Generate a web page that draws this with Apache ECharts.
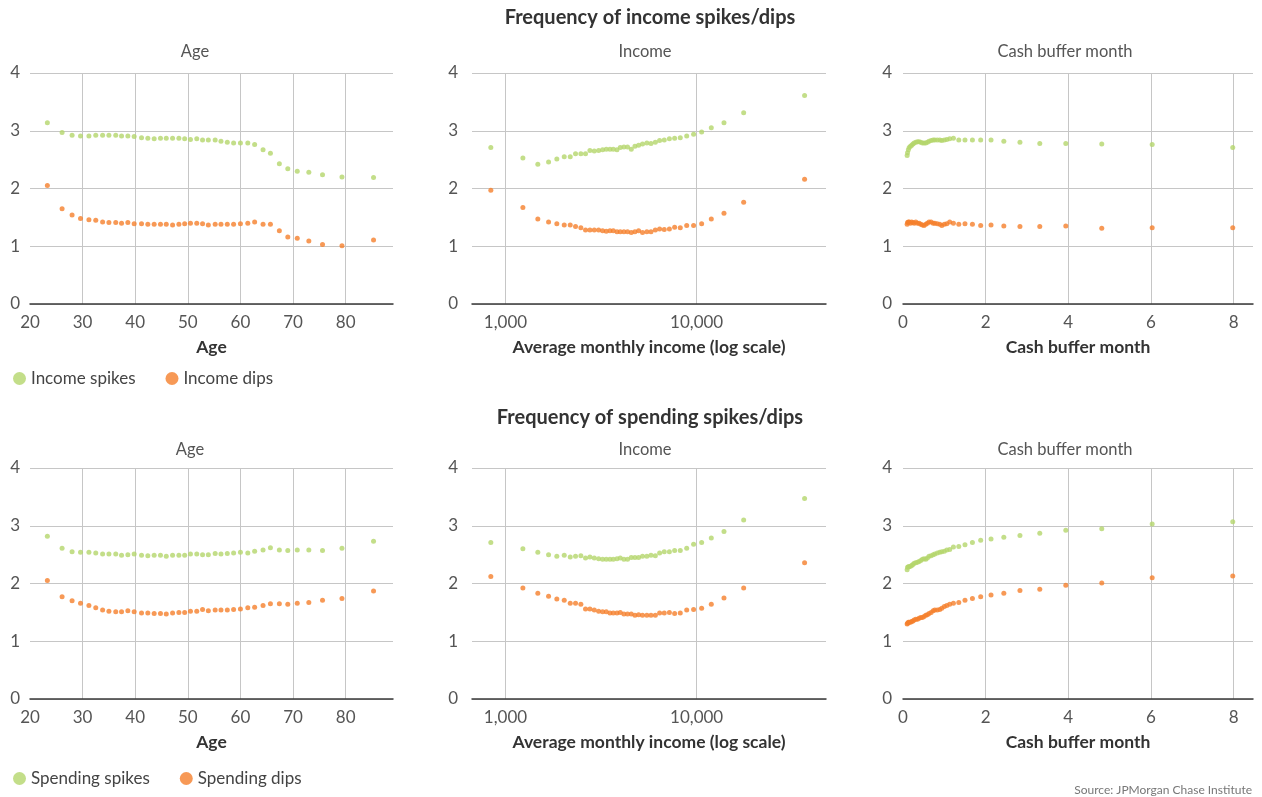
<!DOCTYPE html>
<html lang="en">
<head>
    <meta charset="UTF-8">
    <title>Frequency of income and spending spikes/dips</title>
    <script src="https://cdn.jsdelivr.net/npm/echarts@6/dist/echarts.min.js"></script>
    <style>
        body { margin: 0; padding: 0; background: #fff; }
        #chart { width: 1262px; height: 797px; }
    </style>
</head>
<body>
<div id="chart"></div>
<script>
    // x values shared by both rows
    const ages = [23.3, 26.1, 28.0, 29.6, 31.2, 32.5, 33.8, 35.0, 36.3, 37.4, 38.6, 39.8, 41.2, 42.4, 43.6, 44.8, 45.9, 47.1, 48.3, 49.4,
        50.5, 51.7, 52.8, 53.9, 55.2, 56.3, 57.5, 58.7, 60.0, 61.4, 62.7, 64.3, 65.7, 67.4, 69.0, 70.8, 73.0, 75.6, 79.3, 85.3];
    const incomes = [838, 1233, 1476, 1680, 1856, 2029, 2181, 2325, 2479, 2622, 2765, 2914, 3071, 3222, 3367, 3520, 3664, 3830, 3985, 4164,
        4350, 4550, 4755, 4970, 5210, 5490, 5770, 6080, 6400, 6770, 7200, 7670, 8210, 8870, 9640, 10620, 11930, 13900, 17620, 36700];
    const cashMonths = [0.10, 0.11, 0.13, 0.15, 0.18, 0.21, 0.24, 0.27, 0.31, 0.35, 0.39, 0.43, 0.47, 0.51, 0.55, 0.59, 0.63, 0.68, 0.73, 0.77,
        0.83, 0.89, 0.94, 1.00, 1.06, 1.13, 1.22, 1.35, 1.50, 1.68, 1.88, 2.13, 2.44, 2.83, 3.31, 3.94, 4.81, 6.03, 7.98];

    // income spikes / dips
    const incSpikesAge = [3.14, 2.97, 2.92, 2.91, 2.91, 2.92, 2.92, 2.92, 2.92, 2.91, 2.91, 2.90, 2.88, 2.87, 2.86, 2.87, 2.87, 2.87, 2.87, 2.86,
        2.85, 2.86, 2.84, 2.84, 2.84, 2.82, 2.80, 2.79, 2.79, 2.79, 2.76, 2.67, 2.61, 2.43, 2.34, 2.30, 2.28, 2.24, 2.20, 2.19];
    const incDipsAge = [2.05, 1.65, 1.54, 1.48, 1.46, 1.45, 1.42, 1.41, 1.41, 1.40, 1.41, 1.39, 1.39, 1.38, 1.38, 1.38, 1.38, 1.37, 1.38, 1.39,
        1.40, 1.40, 1.39, 1.37, 1.38, 1.38, 1.38, 1.38, 1.39, 1.40, 1.42, 1.38, 1.38, 1.27, 1.16, 1.14, 1.09, 1.03, 1.01, 1.11];
    const incSpikesIncome = [2.71, 2.53, 2.42, 2.46, 2.51, 2.55, 2.55, 2.60, 2.60, 2.60, 2.66, 2.65, 2.66, 2.67, 2.68, 2.68, 2.68, 2.67, 2.71, 2.72,
        2.72, 2.68, 2.73, 2.75, 2.77, 2.79, 2.78, 2.80, 2.83, 2.84, 2.86, 2.87, 2.88, 2.91, 2.94, 2.98, 3.05, 3.14, 3.31, 3.61];
    const incDipsIncome = [1.97, 1.67, 1.47, 1.42, 1.39, 1.37, 1.37, 1.34, 1.32, 1.28, 1.28, 1.28, 1.28, 1.27, 1.26, 1.27, 1.27, 1.25, 1.25, 1.25,
        1.25, 1.24, 1.25, 1.27, 1.24, 1.25, 1.25, 1.28, 1.30, 1.29, 1.30, 1.33, 1.32, 1.36, 1.36, 1.39, 1.47, 1.57, 1.76, 2.16];
    const incSpikesCash = [2.57, 2.62, 2.67, 2.71, 2.73, 2.75, 2.77, 2.79, 2.80, 2.81, 2.81, 2.80, 2.79, 2.79, 2.79, 2.80, 2.82, 2.83, 2.84, 2.84,
        2.84, 2.84, 2.83, 2.84, 2.85, 2.86, 2.87, 2.84, 2.84, 2.84, 2.84, 2.84, 2.82, 2.80, 2.78, 2.78, 2.77, 2.76, 2.71];
    const incDipsCash = [1.38, 1.41, 1.42, 1.42, 1.40, 1.42, 1.41, 1.40, 1.42, 1.40, 1.40, 1.38, 1.37, 1.36, 1.38, 1.40, 1.42, 1.42, 1.40, 1.40,
        1.39, 1.38, 1.36, 1.38, 1.39, 1.42, 1.40, 1.38, 1.39, 1.38, 1.36, 1.37, 1.35, 1.34, 1.34, 1.35, 1.31, 1.32, 1.32];

    // spending spikes / dips
    const spdSpikesAge = [2.82, 2.61, 2.55, 2.54, 2.54, 2.53, 2.51, 2.51, 2.51, 2.49, 2.50, 2.51, 2.49, 2.48, 2.49, 2.49, 2.47, 2.49, 2.49, 2.49,
        2.51, 2.51, 2.50, 2.50, 2.52, 2.51, 2.52, 2.53, 2.54, 2.53, 2.56, 2.58, 2.62, 2.58, 2.57, 2.58, 2.58, 2.57, 2.61, 2.73];
    const spdDipsAge = [2.05, 1.77, 1.70, 1.66, 1.62, 1.58, 1.54, 1.52, 1.51, 1.51, 1.53, 1.51, 1.49, 1.49, 1.48, 1.48, 1.47, 1.49, 1.50, 1.50,
        1.52, 1.52, 1.55, 1.53, 1.54, 1.54, 1.54, 1.55, 1.56, 1.58, 1.59, 1.62, 1.65, 1.65, 1.64, 1.66, 1.67, 1.71, 1.74, 1.87];
    const spdSpikesIncome = [2.71, 2.60, 2.54, 2.50, 2.47, 2.49, 2.46, 2.47, 2.48, 2.44, 2.46, 2.44, 2.43, 2.42, 2.42, 2.42, 2.42, 2.43, 2.44, 2.42,
        2.42, 2.45, 2.45, 2.45, 2.47, 2.47, 2.49, 2.48, 2.53, 2.55, 2.55, 2.57, 2.57, 2.61, 2.68, 2.71, 2.79, 2.90, 3.10, 3.47];
    const spdDipsIncome = [2.12, 1.92, 1.83, 1.78, 1.73, 1.71, 1.66, 1.66, 1.64, 1.56, 1.56, 1.54, 1.52, 1.51, 1.51, 1.49, 1.49, 1.49, 1.50, 1.47,
        1.47, 1.47, 1.45, 1.46, 1.45, 1.45, 1.45, 1.45, 1.49, 1.49, 1.50, 1.48, 1.49, 1.54, 1.55, 1.57, 1.64, 1.75, 1.92, 2.36];
    const spdSpikesCash = [2.24, 2.28, 2.29, 2.29, 2.30, 2.31, 2.33, 2.35, 2.36, 2.37, 2.38, 2.40, 2.42, 2.43, 2.42, 2.44, 2.47, 2.48, 2.50, 2.51,
        2.53, 2.54, 2.55, 2.56, 2.58, 2.59, 2.63, 2.64, 2.67, 2.71, 2.75, 2.77, 2.80, 2.83, 2.87, 2.92, 2.95, 3.03, 3.07];
    const spdDipsCash = [1.30, 1.31, 1.33, 1.33, 1.33, 1.34, 1.35, 1.37, 1.38, 1.38, 1.40, 1.41, 1.41, 1.43, 1.45, 1.46, 1.48, 1.50, 1.53, 1.54,
        1.54, 1.55, 1.57, 1.60, 1.62, 1.64, 1.66, 1.67, 1.71, 1.74, 1.77, 1.80, 1.83, 1.88, 1.90, 1.97, 2.01, 2.10, 2.13];

    const yTicks = [0, 1, 2, 3, 4];
    const GREEN = '#b4d66c';
    const ORANGE = '#f5802c';
    const FONT = 'Lato, "Open Sans", sans-serif';

    const zip = (xs, ys) => ys.map((y, i) => [xs[i], y]);

    const chart = echarts.init(document.getElementById('chart'));

    // panel geometry: columns and rows
    const cols = [{ left: 30, width: 363, ylm: 10 }, { left: 472, width: 354, ylm: 14 }, { left: 903, width: 350, ylm: 11 }];
    const rows = [73, 468];
    const grids = [], xAxes = [], yAxes = [];

    rows.forEach(top => {
        cols.forEach((c, ci) => {
            grids.push({ left: c.left, top: top, width: c.width, height: 231 });
            const gi = grids.length - 1;
            const base = {
                gridIndex: gi,
                axisTick: { show: false },
                axisLine: { show: true, onZero: false, lineStyle: { color: '#3a3a3a', width: 1.5 } },
                splitLine: { show: true, showMinLine: false, showMaxLine: false, lineStyle: { color: '#c6c6c6', width: 1 } },
                axisLabel: { color: '#555', fontSize: 17, fontFamily: FONT, margin: 10, showMaxLabel: false },
                nameLocation: 'middle',
                nameGap: 34,
                nameTextStyle: { color: '#333', fontSize: 17.5, fontWeight: 'bold', fontFamily: FONT }
            };
            if (ci === 0) {
                xAxes.push(Object.assign({}, base, { type: 'value', min: 20, max: 89, interval: 10, name: 'Age' }));
            } else if (ci === 1) {
                xAxes.push(Object.assign({}, base, {
                    type: 'log', logBase: 10, min: 668, max: 47500, name: 'Average monthly income (log scale)',
                    axisLabel: Object.assign({}, base.axisLabel, {
                        showMinLabel: false,
                        formatter: v => Math.round(v).toLocaleString('en-US')
                    })
                }));
            } else {
                xAxes.push(Object.assign({}, base, { type: 'value', min: 0, max: 8.47, interval: 2, name: 'Cash buffer month' }));
            }
            yAxes.push({
                gridIndex: gi,
                type: 'value',
                min: yTicks[0],
                max: yTicks[yTicks.length - 1],
                interval: 1,
                axisLine: { show: false },
                axisTick: { show: false },
                splitLine: { show: true, lineStyle: { color: '#c6c6c6', width: 1 } },
                axisLabel: { color: '#555', fontSize: 17, fontFamily: FONT, margin: c.ylm }
            });
        });
    });

    function dots(name, idx, data, color) {
        return {
            name: name,
            type: 'scatter',
            xAxisIndex: idx,
            yAxisIndex: idx,
            data: data,
            symbolSize: 5,
            itemStyle: { color: color },
            emphasis: { disabled: true }
        };
    }

    const series = [
        dots('Income spikes', 0, zip(ages, incSpikesAge), GREEN),
        dots('Income dips', 0, zip(ages, incDipsAge), ORANGE),
        dots('Income spikes', 1, zip(incomes, incSpikesIncome), GREEN),
        dots('Income dips', 1, zip(incomes, incDipsIncome), ORANGE),
        dots('Income spikes', 2, zip(cashMonths, incSpikesCash), GREEN),
        dots('Income dips', 2, zip(cashMonths, incDipsCash), ORANGE),
        dots('Spending spikes', 3, zip(ages, spdSpikesAge), GREEN),
        dots('Spending dips', 3, zip(ages, spdDipsAge), ORANGE),
        dots('Spending spikes', 4, zip(incomes, spdSpikesIncome), GREEN),
        dots('Spending dips', 4, zip(incomes, spdDipsIncome), ORANGE),
        dots('Spending spikes', 5, zip(cashMonths, spdSpikesCash), GREEN),
        dots('Spending dips', 5, zip(cashMonths, spdDipsCash), ORANGE)
    ];

    function label(text, x, y, size, weight, color, align) {
        return {
            type: 'text', x: x, y: y, silent: true,
            style: {
                text: text, fill: color, fontSize: size, fontWeight: weight, fontFamily: FONT,
                textAlign: align || 'center', textVerticalAlign: 'middle'
            }
        };
    }

    const legendBase = {
        icon: 'circle',
        itemWidth: 13,
        itemHeight: 13,
        itemGap: 30,
        left: 8,
        selectedMode: false,
        textStyle: { color: '#444', fontSize: 17, fontFamily: FONT }
    };

    chart.setOption({
        animation: false,
        grid: grids,
        xAxis: xAxes,
        yAxis: yAxes,
        series: series,
        legend: [
            Object.assign({}, legendBase, { top: 365, data: ['Income spikes', 'Income dips'] }),
            Object.assign({}, legendBase, { top: 765, data: ['Spending spikes', 'Spending dips'] })
        ],
        graphic: [
            label('Frequency of income spikes/dips', 650, 18, 20, 'bold', '#333'),
            label('Frequency of spending spikes/dips', 650, 418, 20, 'bold', '#333'),
            label('Age', 195, 52, 16.5, 'normal', '#555'),
            label('Income', 645, 52, 16.5, 'normal', '#555'),
            label('Cash buffer month', 1065, 52, 16.5, 'normal', '#555'),
            label('Age', 190, 450, 16.5, 'normal', '#555'),
            label('Income', 645, 450, 16.5, 'normal', '#555'),
            label('Cash buffer month', 1065, 450, 16.5, 'normal', '#555'),
            label('Source: JPMorgan Chase Institute', 1252, 790, 12, 'normal', '#777', 'right')
        ]
    });
</script>
</body>
</html>
